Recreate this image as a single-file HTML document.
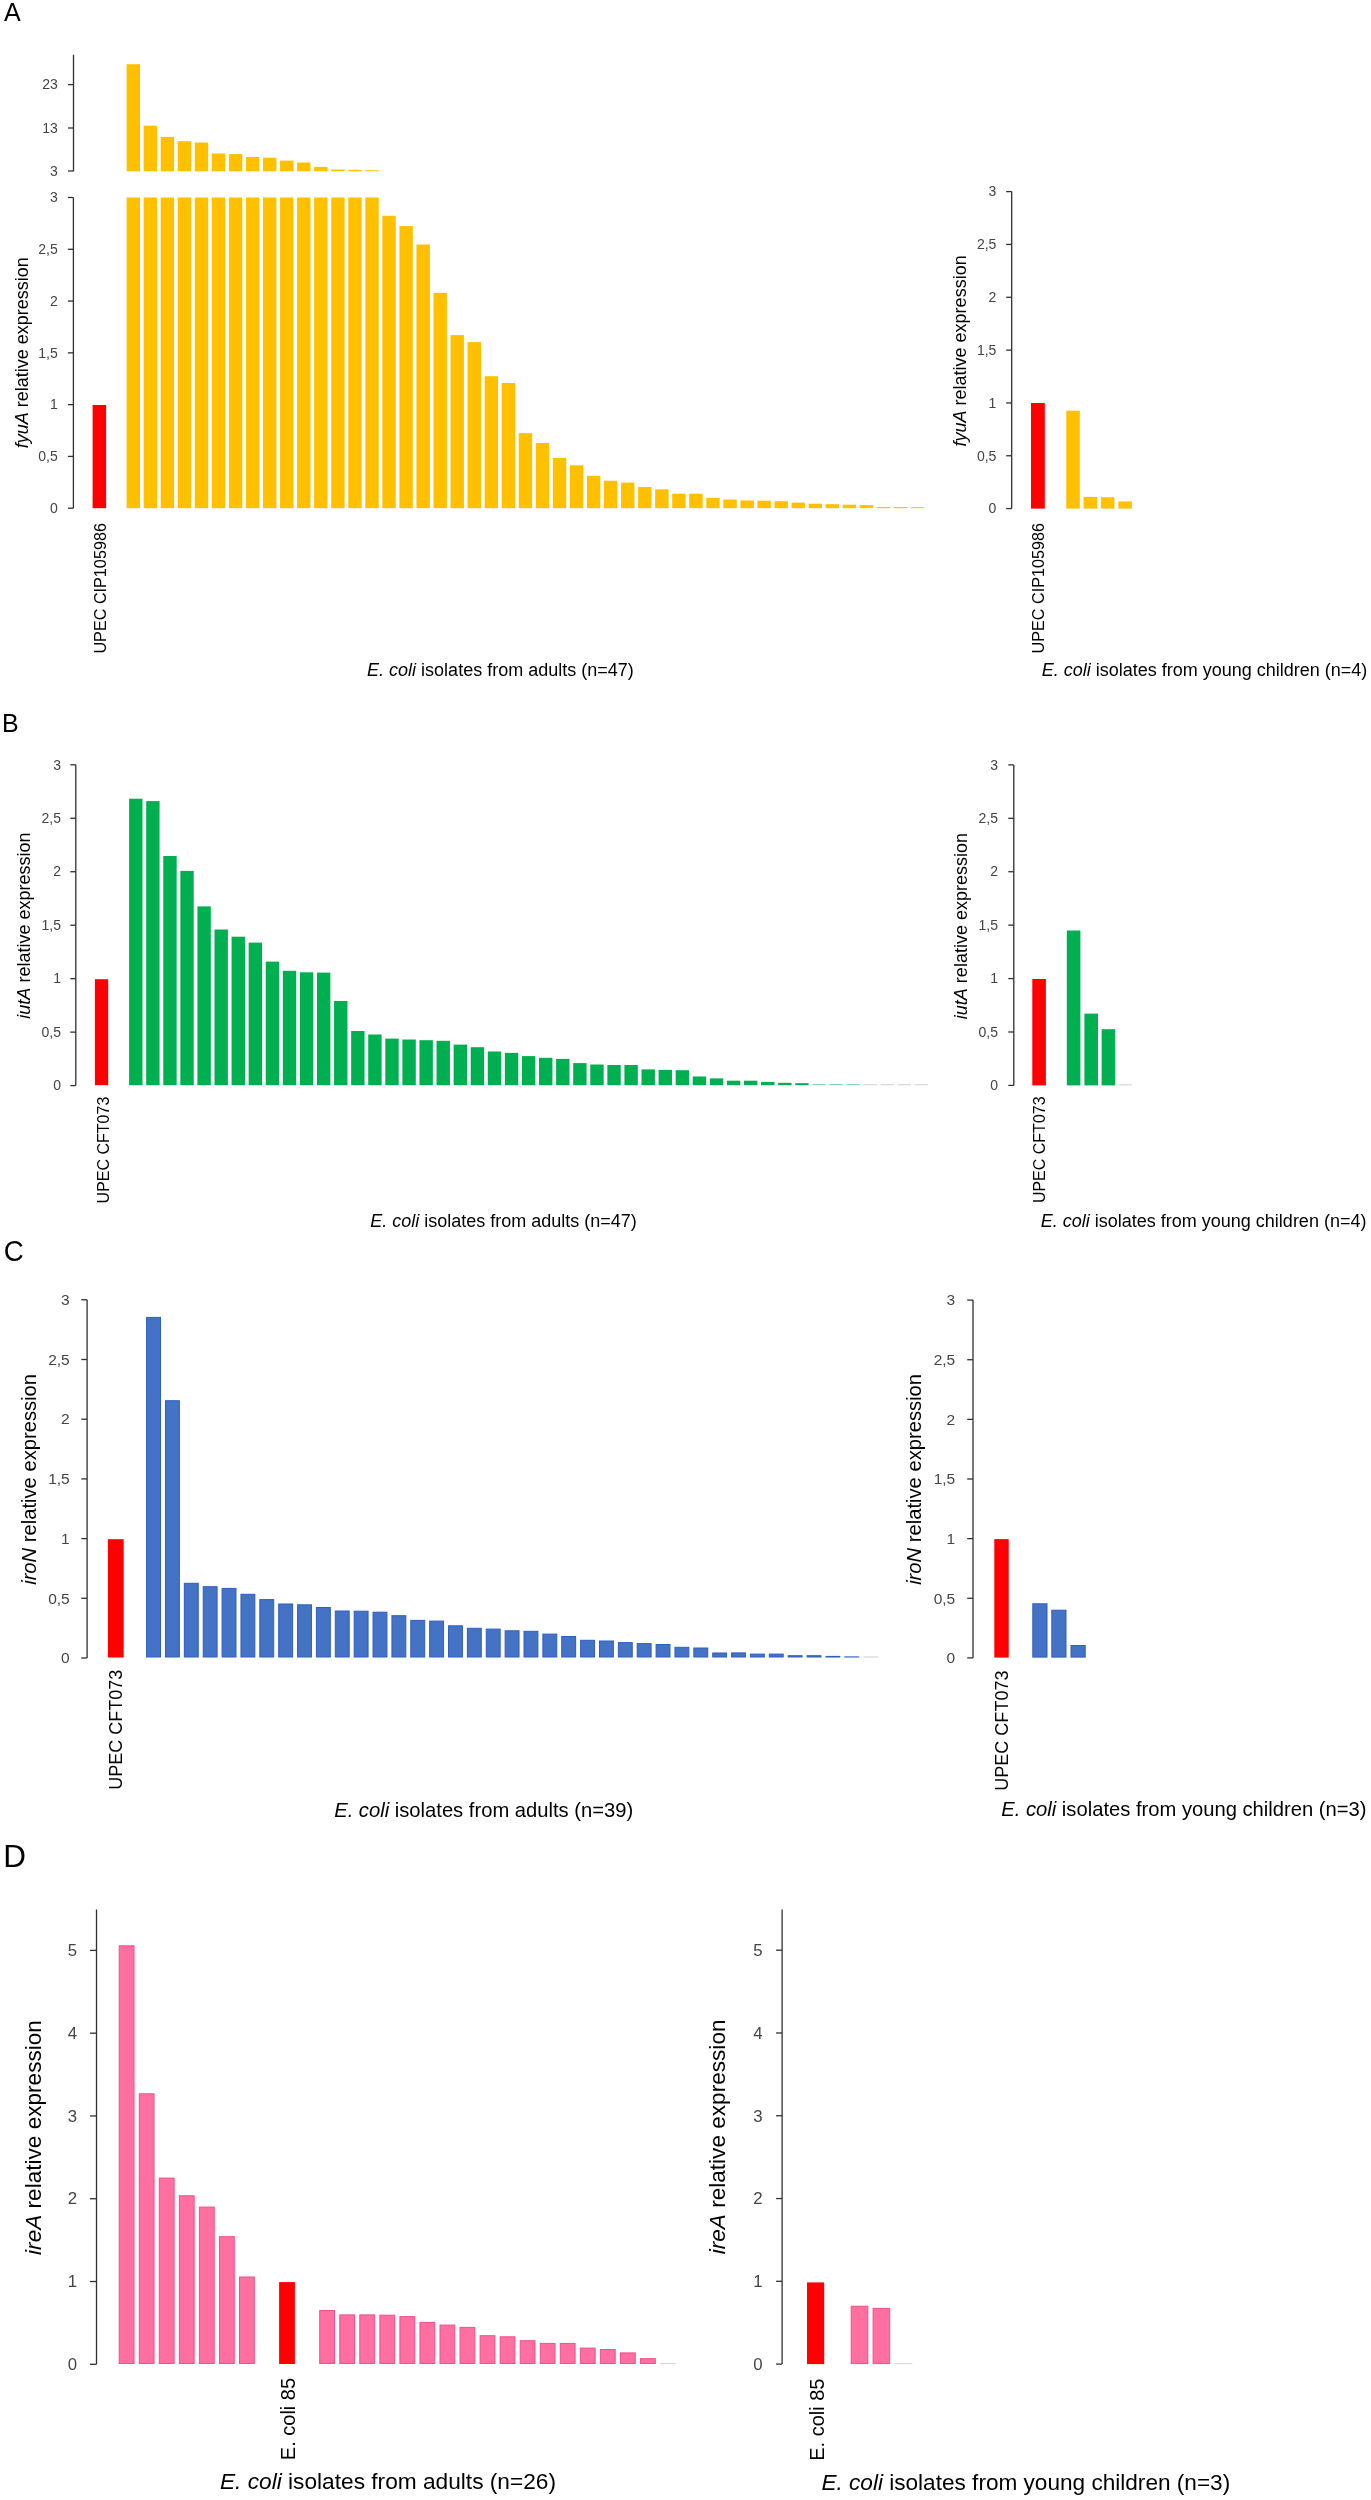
<!DOCTYPE html>
<html><head><meta charset="utf-8"><title>Figure</title>
<style>html,body{margin:0;padding:0;background:#fff;}svg{display:block;will-change:transform}text{font-family:"Liberation Sans",sans-serif;}</style>
</head><body>
<svg width="1371" height="2500" viewBox="0 0 1371 2500">
<rect x="0" y="0" width="1371" height="2500" fill="#fff"/>
<text x="4.10" y="21.10" font-size="25" text-anchor="start" fill="#000">A</text>
<line x1="73.50" y1="54.70" x2="73.50" y2="171.30" stroke="#303030" stroke-width="1.3"/>
<line x1="68.00" y1="84.60" x2="73.50" y2="84.60" stroke="#303030" stroke-width="1.3"/>
<text x="57.80" y="89.34" font-size="14" text-anchor="end" fill="#454545">23</text>
<line x1="68.00" y1="128.00" x2="73.50" y2="128.00" stroke="#303030" stroke-width="1.3"/>
<text x="57.80" y="132.74" font-size="14" text-anchor="end" fill="#454545">13</text>
<line x1="68.00" y1="171.00" x2="73.50" y2="171.00" stroke="#303030" stroke-width="1.3"/>
<text x="57.80" y="175.74" font-size="14" text-anchor="end" fill="#454545">3</text>
<rect x="126.60" y="64.20" width="13.40" height="107.10" fill="#FFC000"/>
<rect x="143.65" y="125.70" width="13.40" height="45.60" fill="#FFC000"/>
<rect x="160.70" y="136.90" width="13.40" height="34.40" fill="#FFC000"/>
<rect x="177.75" y="141.20" width="13.40" height="30.10" fill="#FFC000"/>
<rect x="194.80" y="142.50" width="13.40" height="28.80" fill="#FFC000"/>
<rect x="211.85" y="153.50" width="13.40" height="17.80" fill="#FFC000"/>
<rect x="228.90" y="154.10" width="13.40" height="17.20" fill="#FFC000"/>
<rect x="245.95" y="157.00" width="13.40" height="14.30" fill="#FFC000"/>
<rect x="263.00" y="157.70" width="13.40" height="13.60" fill="#FFC000"/>
<rect x="280.05" y="160.60" width="13.40" height="10.70" fill="#FFC000"/>
<rect x="297.10" y="162.50" width="13.40" height="8.80" fill="#FFC000"/>
<rect x="314.15" y="166.90" width="13.40" height="4.40" fill="#FFC000"/>
<rect x="331.20" y="169.50" width="13.40" height="1.80" fill="#FFC000"/>
<rect x="348.25" y="169.80" width="13.40" height="1.50" fill="#FFC000"/>
<rect x="365.30" y="170.20" width="13.40" height="1.10" fill="#FFC000"/>
<line x1="73.40" y1="197.50" x2="73.40" y2="508.20" stroke="#303030" stroke-width="1.3"/>
<line x1="67.90" y1="508.20" x2="73.40" y2="508.20" stroke="#303030" stroke-width="1.3"/>
<text x="57.80" y="512.94" font-size="14" text-anchor="end" fill="#454545">0</text>
<line x1="67.90" y1="456.42" x2="73.40" y2="456.42" stroke="#303030" stroke-width="1.3"/>
<text x="57.80" y="461.16" font-size="14" text-anchor="end" fill="#454545">0,5</text>
<line x1="67.90" y1="404.63" x2="73.40" y2="404.63" stroke="#303030" stroke-width="1.3"/>
<text x="57.80" y="409.37" font-size="14" text-anchor="end" fill="#454545">1</text>
<line x1="67.90" y1="352.85" x2="73.40" y2="352.85" stroke="#303030" stroke-width="1.3"/>
<text x="57.80" y="357.59" font-size="14" text-anchor="end" fill="#454545">1,5</text>
<line x1="67.90" y1="301.07" x2="73.40" y2="301.07" stroke="#303030" stroke-width="1.3"/>
<text x="57.80" y="305.81" font-size="14" text-anchor="end" fill="#454545">2</text>
<line x1="67.90" y1="249.28" x2="73.40" y2="249.28" stroke="#303030" stroke-width="1.3"/>
<text x="57.80" y="254.02" font-size="14" text-anchor="end" fill="#454545">2,5</text>
<line x1="67.90" y1="197.50" x2="73.40" y2="197.50" stroke="#303030" stroke-width="1.3"/>
<text x="57.80" y="202.24" font-size="14" text-anchor="end" fill="#454545">3</text>
<rect x="92.60" y="405.00" width="13.50" height="103.20" fill="#FF0000"/>
<rect x="126.60" y="197.50" width="13.40" height="310.70" fill="#FFC000"/>
<rect x="143.65" y="197.50" width="13.40" height="310.70" fill="#FFC000"/>
<rect x="160.70" y="197.50" width="13.40" height="310.70" fill="#FFC000"/>
<rect x="177.75" y="197.50" width="13.40" height="310.70" fill="#FFC000"/>
<rect x="194.80" y="197.50" width="13.40" height="310.70" fill="#FFC000"/>
<rect x="211.85" y="197.50" width="13.40" height="310.70" fill="#FFC000"/>
<rect x="228.90" y="197.50" width="13.40" height="310.70" fill="#FFC000"/>
<rect x="245.95" y="197.50" width="13.40" height="310.70" fill="#FFC000"/>
<rect x="263.00" y="197.50" width="13.40" height="310.70" fill="#FFC000"/>
<rect x="280.05" y="197.50" width="13.40" height="310.70" fill="#FFC000"/>
<rect x="297.10" y="197.50" width="13.40" height="310.70" fill="#FFC000"/>
<rect x="314.15" y="197.50" width="13.40" height="310.70" fill="#FFC000"/>
<rect x="331.20" y="197.50" width="13.40" height="310.70" fill="#FFC000"/>
<rect x="348.25" y="197.50" width="13.40" height="310.70" fill="#FFC000"/>
<rect x="365.30" y="197.50" width="13.40" height="310.70" fill="#FFC000"/>
<rect x="382.35" y="215.80" width="13.40" height="292.40" fill="#FFC000"/>
<rect x="399.40" y="226.10" width="13.40" height="282.10" fill="#FFC000"/>
<rect x="416.45" y="244.50" width="13.40" height="263.70" fill="#FFC000"/>
<rect x="433.50" y="292.80" width="13.40" height="215.40" fill="#FFC000"/>
<rect x="450.55" y="335.10" width="13.40" height="173.10" fill="#FFC000"/>
<rect x="467.60" y="342.10" width="13.40" height="166.10" fill="#FFC000"/>
<rect x="484.65" y="376.20" width="13.40" height="132.00" fill="#FFC000"/>
<rect x="501.70" y="383.00" width="13.40" height="125.20" fill="#FFC000"/>
<rect x="518.75" y="433.10" width="13.40" height="75.10" fill="#FFC000"/>
<rect x="535.80" y="443.00" width="13.40" height="65.20" fill="#FFC000"/>
<rect x="552.85" y="458.00" width="13.40" height="50.20" fill="#FFC000"/>
<rect x="569.90" y="465.30" width="13.40" height="42.90" fill="#FFC000"/>
<rect x="586.95" y="475.80" width="13.40" height="32.40" fill="#FFC000"/>
<rect x="604.00" y="480.80" width="13.40" height="27.40" fill="#FFC000"/>
<rect x="621.05" y="482.60" width="13.40" height="25.60" fill="#FFC000"/>
<rect x="638.10" y="487.00" width="13.40" height="21.20" fill="#FFC000"/>
<rect x="655.15" y="489.30" width="13.40" height="18.90" fill="#FFC000"/>
<rect x="672.20" y="493.70" width="13.40" height="14.50" fill="#FFC000"/>
<rect x="689.25" y="493.70" width="13.40" height="14.50" fill="#FFC000"/>
<rect x="706.30" y="497.90" width="13.40" height="10.30" fill="#FFC000"/>
<rect x="723.35" y="499.50" width="13.40" height="8.70" fill="#FFC000"/>
<rect x="740.40" y="500.50" width="13.40" height="7.70" fill="#FFC000"/>
<rect x="757.45" y="500.70" width="13.40" height="7.50" fill="#FFC000"/>
<rect x="774.50" y="501.20" width="13.40" height="7.00" fill="#FFC000"/>
<rect x="791.55" y="502.60" width="13.40" height="5.60" fill="#FFC000"/>
<rect x="808.60" y="503.70" width="13.40" height="4.50" fill="#FFC000"/>
<rect x="825.65" y="504.20" width="13.40" height="4.00" fill="#FFC000"/>
<rect x="842.70" y="504.70" width="13.40" height="3.50" fill="#FFC000"/>
<rect x="859.75" y="505.10" width="13.40" height="3.10" fill="#FFC000"/>
<rect x="876.80" y="507.00" width="13.40" height="1.20" fill="#FFC000"/>
<rect x="893.85" y="507.00" width="13.40" height="1.20" fill="#FFC000"/>
<rect x="910.90" y="507.20" width="13.40" height="1.00" fill="#FFC000"/>
<text x="28.20" y="352.70" font-size="18" text-anchor="middle" fill="#000" transform="rotate(-90 28.20 352.70)"><tspan font-style='italic'>fyuA</tspan> relative expression</text>
<text x="106.00" y="523.10" font-size="16.2" text-anchor="end" fill="#000" transform="rotate(-90 106.00 523.10)">UPEC CIP105986</text>
<text x="500.40" y="675.60" font-size="18" text-anchor="middle" fill="#000"><tspan font-style='italic'>E. coli</tspan> isolates from adults (n=47)</text>
<line x1="1011.70" y1="191.60" x2="1011.70" y2="508.60" stroke="#303030" stroke-width="1.3"/>
<line x1="1006.20" y1="508.60" x2="1011.70" y2="508.60" stroke="#303030" stroke-width="1.3"/>
<text x="996.40" y="513.34" font-size="14" text-anchor="end" fill="#454545">0</text>
<line x1="1006.20" y1="455.77" x2="1011.70" y2="455.77" stroke="#303030" stroke-width="1.3"/>
<text x="996.40" y="460.51" font-size="14" text-anchor="end" fill="#454545">0,5</text>
<line x1="1006.20" y1="402.93" x2="1011.70" y2="402.93" stroke="#303030" stroke-width="1.3"/>
<text x="996.40" y="407.67" font-size="14" text-anchor="end" fill="#454545">1</text>
<line x1="1006.20" y1="350.10" x2="1011.70" y2="350.10" stroke="#303030" stroke-width="1.3"/>
<text x="996.40" y="354.84" font-size="14" text-anchor="end" fill="#454545">1,5</text>
<line x1="1006.20" y1="297.27" x2="1011.70" y2="297.27" stroke="#303030" stroke-width="1.3"/>
<text x="996.40" y="302.01" font-size="14" text-anchor="end" fill="#454545">2</text>
<line x1="1006.20" y1="244.43" x2="1011.70" y2="244.43" stroke="#303030" stroke-width="1.3"/>
<text x="996.40" y="249.17" font-size="14" text-anchor="end" fill="#454545">2,5</text>
<line x1="1006.20" y1="191.60" x2="1011.70" y2="191.60" stroke="#303030" stroke-width="1.3"/>
<text x="996.40" y="196.34" font-size="14" text-anchor="end" fill="#454545">3</text>
<rect x="1031.00" y="403.00" width="13.80" height="105.60" fill="#FF0000"/>
<rect x="1066.30" y="410.70" width="13.50" height="97.90" fill="#FFC000"/>
<rect x="1083.60" y="496.90" width="13.50" height="11.70" fill="#FFC000"/>
<rect x="1100.90" y="497.20" width="13.50" height="11.40" fill="#FFC000"/>
<rect x="1118.40" y="501.40" width="13.50" height="7.20" fill="#FFC000"/>
<text x="966.40" y="350.90" font-size="18" text-anchor="middle" fill="#000" transform="rotate(-90 966.40 350.90)"><tspan font-style='italic'>fyuA</tspan> relative expression</text>
<text x="1043.50" y="523.00" font-size="16.2" text-anchor="end" fill="#000" transform="rotate(-90 1043.50 523.00)">UPEC CIP105986</text>
<text x="1204.50" y="675.60" font-size="18" text-anchor="middle" fill="#000"><tspan font-style='italic'>E. coli</tspan> isolates from young children (n=4)</text>
<text x="2.00" y="731.70" font-size="25" text-anchor="start" fill="#000">B</text>
<line x1="75.80" y1="764.80" x2="75.80" y2="1085.60" stroke="#303030" stroke-width="1.3"/>
<line x1="70.30" y1="1085.60" x2="75.80" y2="1085.60" stroke="#303030" stroke-width="1.3"/>
<text x="61.00" y="1090.34" font-size="14" text-anchor="end" fill="#454545">0</text>
<line x1="70.30" y1="1032.13" x2="75.80" y2="1032.13" stroke="#303030" stroke-width="1.3"/>
<text x="61.00" y="1036.87" font-size="14" text-anchor="end" fill="#454545">0,5</text>
<line x1="70.30" y1="978.67" x2="75.80" y2="978.67" stroke="#303030" stroke-width="1.3"/>
<text x="61.00" y="983.41" font-size="14" text-anchor="end" fill="#454545">1</text>
<line x1="70.30" y1="925.20" x2="75.80" y2="925.20" stroke="#303030" stroke-width="1.3"/>
<text x="61.00" y="929.94" font-size="14" text-anchor="end" fill="#454545">1,5</text>
<line x1="70.30" y1="871.73" x2="75.80" y2="871.73" stroke="#303030" stroke-width="1.3"/>
<text x="61.00" y="876.47" font-size="14" text-anchor="end" fill="#454545">2</text>
<line x1="70.30" y1="818.27" x2="75.80" y2="818.27" stroke="#303030" stroke-width="1.3"/>
<text x="61.00" y="823.01" font-size="14" text-anchor="end" fill="#454545">2,5</text>
<line x1="70.30" y1="764.80" x2="75.80" y2="764.80" stroke="#303030" stroke-width="1.3"/>
<text x="61.00" y="769.54" font-size="14" text-anchor="end" fill="#454545">3</text>
<rect x="94.90" y="979.20" width="13.30" height="106.00" fill="#FF0000"/>
<rect x="129.10" y="798.70" width="13.40" height="286.50" fill="#00B050"/>
<rect x="146.18" y="801.10" width="13.40" height="284.10" fill="#00B050"/>
<rect x="163.26" y="856.00" width="13.40" height="229.20" fill="#00B050"/>
<rect x="180.34" y="870.90" width="13.40" height="214.30" fill="#00B050"/>
<rect x="197.42" y="906.40" width="13.40" height="178.80" fill="#00B050"/>
<rect x="214.50" y="929.50" width="13.40" height="155.70" fill="#00B050"/>
<rect x="231.58" y="936.70" width="13.40" height="148.50" fill="#00B050"/>
<rect x="248.66" y="942.60" width="13.40" height="142.60" fill="#00B050"/>
<rect x="265.74" y="961.60" width="13.40" height="123.60" fill="#00B050"/>
<rect x="282.82" y="970.80" width="13.40" height="114.40" fill="#00B050"/>
<rect x="299.90" y="972.30" width="13.40" height="112.90" fill="#00B050"/>
<rect x="316.98" y="972.60" width="13.40" height="112.60" fill="#00B050"/>
<rect x="334.06" y="1001.00" width="13.40" height="84.20" fill="#00B050"/>
<rect x="351.14" y="1031.00" width="13.40" height="54.20" fill="#00B050"/>
<rect x="368.22" y="1034.50" width="13.40" height="50.70" fill="#00B050"/>
<rect x="385.30" y="1038.60" width="13.40" height="46.60" fill="#00B050"/>
<rect x="402.38" y="1039.50" width="13.40" height="45.70" fill="#00B050"/>
<rect x="419.46" y="1040.20" width="13.40" height="45.00" fill="#00B050"/>
<rect x="436.54" y="1040.80" width="13.40" height="44.40" fill="#00B050"/>
<rect x="453.62" y="1044.60" width="13.40" height="40.60" fill="#00B050"/>
<rect x="470.70" y="1047.20" width="13.40" height="38.00" fill="#00B050"/>
<rect x="487.78" y="1051.50" width="13.40" height="33.70" fill="#00B050"/>
<rect x="504.86" y="1052.90" width="13.40" height="32.30" fill="#00B050"/>
<rect x="521.94" y="1056.10" width="13.40" height="29.10" fill="#00B050"/>
<rect x="539.02" y="1057.80" width="13.40" height="27.40" fill="#00B050"/>
<rect x="556.10" y="1058.90" width="13.40" height="26.30" fill="#00B050"/>
<rect x="573.18" y="1063.10" width="13.40" height="22.10" fill="#00B050"/>
<rect x="590.26" y="1064.50" width="13.40" height="20.70" fill="#00B050"/>
<rect x="607.34" y="1065.00" width="13.40" height="20.20" fill="#00B050"/>
<rect x="624.42" y="1065.00" width="13.40" height="20.20" fill="#00B050"/>
<rect x="641.50" y="1069.40" width="13.40" height="15.80" fill="#00B050"/>
<rect x="658.58" y="1069.90" width="13.40" height="15.30" fill="#00B050"/>
<rect x="675.66" y="1070.20" width="13.40" height="15.00" fill="#00B050"/>
<rect x="692.74" y="1076.50" width="13.40" height="8.70" fill="#00B050"/>
<rect x="709.82" y="1078.40" width="13.40" height="6.80" fill="#00B050"/>
<rect x="726.90" y="1080.70" width="13.40" height="4.50" fill="#00B050"/>
<rect x="743.98" y="1080.70" width="13.40" height="4.50" fill="#00B050"/>
<rect x="761.06" y="1081.90" width="13.40" height="3.30" fill="#00B050"/>
<rect x="778.14" y="1082.80" width="13.40" height="2.40" fill="#00B050"/>
<rect x="795.22" y="1083.20" width="13.40" height="2.00" fill="#00B050"/>
<rect x="812.30" y="1084.10" width="13.40" height="1.10" fill="#7ED4A0"/>
<rect x="829.38" y="1084.10" width="13.40" height="1.10" fill="#7ED4A0"/>
<rect x="846.46" y="1084.10" width="13.40" height="1.10" fill="#7ED4A0"/>
<rect x="863.54" y="1084.20" width="13.40" height="1.00" fill="#D0D0D0"/>
<rect x="880.62" y="1084.20" width="13.40" height="1.00" fill="#D0D0D0"/>
<rect x="897.70" y="1084.20" width="13.40" height="1.00" fill="#D0D0D0"/>
<rect x="914.78" y="1084.20" width="13.40" height="1.00" fill="#D0D0D0"/>
<text x="30.50" y="925.60" font-size="18" text-anchor="middle" fill="#000" transform="rotate(-90 30.50 925.60)"><tspan font-style='italic'>iutA</tspan> relative expression</text>
<text x="109.00" y="1096.70" font-size="16" text-anchor="end" fill="#000" transform="rotate(-90 109.00 1096.70)">UPEC CFT073</text>
<text x="503.50" y="1227.20" font-size="18" text-anchor="middle" fill="#000"><tspan font-style='italic'>E. coli</tspan> isolates from adults (n=47)</text>
<line x1="1013.80" y1="764.90" x2="1013.80" y2="1085.40" stroke="#303030" stroke-width="1.3"/>
<line x1="1008.30" y1="1085.40" x2="1013.80" y2="1085.40" stroke="#303030" stroke-width="1.3"/>
<text x="998.00" y="1090.14" font-size="14" text-anchor="end" fill="#454545">0</text>
<line x1="1008.30" y1="1031.98" x2="1013.80" y2="1031.98" stroke="#303030" stroke-width="1.3"/>
<text x="998.00" y="1036.72" font-size="14" text-anchor="end" fill="#454545">0,5</text>
<line x1="1008.30" y1="978.57" x2="1013.80" y2="978.57" stroke="#303030" stroke-width="1.3"/>
<text x="998.00" y="983.31" font-size="14" text-anchor="end" fill="#454545">1</text>
<line x1="1008.30" y1="925.15" x2="1013.80" y2="925.15" stroke="#303030" stroke-width="1.3"/>
<text x="998.00" y="929.89" font-size="14" text-anchor="end" fill="#454545">1,5</text>
<line x1="1008.30" y1="871.73" x2="1013.80" y2="871.73" stroke="#303030" stroke-width="1.3"/>
<text x="998.00" y="876.47" font-size="14" text-anchor="end" fill="#454545">2</text>
<line x1="1008.30" y1="818.32" x2="1013.80" y2="818.32" stroke="#303030" stroke-width="1.3"/>
<text x="998.00" y="823.06" font-size="14" text-anchor="end" fill="#454545">2,5</text>
<line x1="1008.30" y1="764.90" x2="1013.80" y2="764.90" stroke="#303030" stroke-width="1.3"/>
<text x="998.00" y="769.64" font-size="14" text-anchor="end" fill="#454545">3</text>
<rect x="1032.30" y="979.00" width="13.60" height="106.40" fill="#FF0000"/>
<rect x="1066.80" y="930.50" width="13.60" height="154.90" fill="#00B050"/>
<rect x="1084.40" y="1013.60" width="13.60" height="71.80" fill="#00B050"/>
<rect x="1101.60" y="1029.20" width="13.60" height="56.20" fill="#00B050"/>
<rect x="1118.90" y="1084.40" width="13.30" height="1.00" fill="#D0D0D0"/>
<text x="967.20" y="926.10" font-size="18" text-anchor="middle" fill="#000" transform="rotate(-90 967.20 926.10)"><tspan font-style='italic'>iutA</tspan> relative expression</text>
<text x="1045.50" y="1096.40" font-size="16" text-anchor="end" fill="#000" transform="rotate(-90 1045.50 1096.40)">UPEC CFT073</text>
<text x="1203.60" y="1227.10" font-size="18" text-anchor="middle" fill="#000"><tspan font-style='italic'>E. coli</tspan> isolates from young children (n=4)</text>
<text transform="translate(3.8 1261.0) scale(0.95 1)" x="0" y="0" font-size="29.2" fill="#000">C</text>
<line x1="87.10" y1="1299.80" x2="87.10" y2="1658.00" stroke="#303030" stroke-width="1.3"/>
<line x1="81.30" y1="1658.00" x2="87.10" y2="1658.00" stroke="#303030" stroke-width="1.3"/>
<text x="69.70" y="1663.28" font-size="15.5" text-anchor="end" fill="#454545">0</text>
<line x1="81.30" y1="1598.30" x2="87.10" y2="1598.30" stroke="#303030" stroke-width="1.3"/>
<text x="69.70" y="1603.58" font-size="15.5" text-anchor="end" fill="#454545">0,5</text>
<line x1="81.30" y1="1538.60" x2="87.10" y2="1538.60" stroke="#303030" stroke-width="1.3"/>
<text x="69.70" y="1543.88" font-size="15.5" text-anchor="end" fill="#454545">1</text>
<line x1="81.30" y1="1478.90" x2="87.10" y2="1478.90" stroke="#303030" stroke-width="1.3"/>
<text x="69.70" y="1484.18" font-size="15.5" text-anchor="end" fill="#454545">1,5</text>
<line x1="81.30" y1="1419.20" x2="87.10" y2="1419.20" stroke="#303030" stroke-width="1.3"/>
<text x="69.70" y="1424.48" font-size="15.5" text-anchor="end" fill="#454545">2</text>
<line x1="81.30" y1="1359.50" x2="87.10" y2="1359.50" stroke="#303030" stroke-width="1.3"/>
<text x="69.70" y="1364.78" font-size="15.5" text-anchor="end" fill="#454545">2,5</text>
<line x1="81.30" y1="1299.80" x2="87.10" y2="1299.80" stroke="#303030" stroke-width="1.3"/>
<text x="69.70" y="1305.08" font-size="15.5" text-anchor="end" fill="#454545">3</text>
<rect x="107.90" y="1539.20" width="15.80" height="118.30" fill="#FF0000"/>
<rect x="146.60" y="1317.40" width="13.90" height="339.60" fill="#4472C4" stroke="#2F5EC4" stroke-width="1"/>
<rect x="165.47" y="1400.70" width="13.90" height="256.30" fill="#4472C4" stroke="#2F5EC4" stroke-width="1"/>
<rect x="184.34" y="1583.30" width="13.90" height="73.70" fill="#4472C4" stroke="#2F5EC4" stroke-width="1"/>
<rect x="203.21" y="1586.70" width="13.90" height="70.30" fill="#4472C4" stroke="#2F5EC4" stroke-width="1"/>
<rect x="222.08" y="1588.40" width="13.90" height="68.60" fill="#4472C4" stroke="#2F5EC4" stroke-width="1"/>
<rect x="240.95" y="1594.30" width="13.90" height="62.70" fill="#4472C4" stroke="#2F5EC4" stroke-width="1"/>
<rect x="259.82" y="1599.60" width="13.90" height="57.40" fill="#4472C4" stroke="#2F5EC4" stroke-width="1"/>
<rect x="278.69" y="1604.00" width="13.90" height="53.00" fill="#4472C4" stroke="#2F5EC4" stroke-width="1"/>
<rect x="297.56" y="1604.80" width="13.90" height="52.20" fill="#4472C4" stroke="#2F5EC4" stroke-width="1"/>
<rect x="316.43" y="1607.50" width="13.90" height="49.50" fill="#4472C4" stroke="#2F5EC4" stroke-width="1"/>
<rect x="335.30" y="1611.00" width="13.90" height="46.00" fill="#4472C4" stroke="#2F5EC4" stroke-width="1"/>
<rect x="354.17" y="1611.20" width="13.90" height="45.80" fill="#4472C4" stroke="#2F5EC4" stroke-width="1"/>
<rect x="373.04" y="1612.20" width="13.90" height="44.80" fill="#4472C4" stroke="#2F5EC4" stroke-width="1"/>
<rect x="391.91" y="1615.70" width="13.90" height="41.30" fill="#4472C4" stroke="#2F5EC4" stroke-width="1"/>
<rect x="410.78" y="1620.40" width="13.90" height="36.60" fill="#4472C4" stroke="#2F5EC4" stroke-width="1"/>
<rect x="429.65" y="1621.10" width="13.90" height="35.90" fill="#4472C4" stroke="#2F5EC4" stroke-width="1"/>
<rect x="448.52" y="1625.80" width="13.90" height="31.20" fill="#4472C4" stroke="#2F5EC4" stroke-width="1"/>
<rect x="467.39" y="1628.30" width="13.90" height="28.70" fill="#4472C4" stroke="#2F5EC4" stroke-width="1"/>
<rect x="486.26" y="1629.10" width="13.90" height="27.90" fill="#4472C4" stroke="#2F5EC4" stroke-width="1"/>
<rect x="505.13" y="1630.80" width="13.90" height="26.20" fill="#4472C4" stroke="#2F5EC4" stroke-width="1"/>
<rect x="524.00" y="1631.30" width="13.90" height="25.70" fill="#4472C4" stroke="#2F5EC4" stroke-width="1"/>
<rect x="542.87" y="1634.10" width="13.90" height="22.90" fill="#4472C4" stroke="#2F5EC4" stroke-width="1"/>
<rect x="561.74" y="1636.50" width="13.90" height="20.50" fill="#4472C4" stroke="#2F5EC4" stroke-width="1"/>
<rect x="580.61" y="1640.30" width="13.90" height="16.70" fill="#4472C4" stroke="#2F5EC4" stroke-width="1"/>
<rect x="599.48" y="1641.00" width="13.90" height="16.00" fill="#4472C4" stroke="#2F5EC4" stroke-width="1"/>
<rect x="618.35" y="1642.60" width="13.90" height="14.40" fill="#4472C4" stroke="#2F5EC4" stroke-width="1"/>
<rect x="637.22" y="1643.60" width="13.90" height="13.40" fill="#4472C4" stroke="#2F5EC4" stroke-width="1"/>
<rect x="656.09" y="1644.50" width="13.90" height="12.50" fill="#4472C4" stroke="#2F5EC4" stroke-width="1"/>
<rect x="674.96" y="1647.30" width="13.90" height="9.70" fill="#4472C4" stroke="#2F5EC4" stroke-width="1"/>
<rect x="693.83" y="1648.00" width="13.90" height="9.00" fill="#4472C4" stroke="#2F5EC4" stroke-width="1"/>
<rect x="712.70" y="1653.00" width="13.90" height="4.00" fill="#4472C4" stroke="#2F5EC4" stroke-width="1"/>
<rect x="731.57" y="1652.90" width="13.90" height="4.10" fill="#4472C4" stroke="#2F5EC4" stroke-width="1"/>
<rect x="750.44" y="1654.10" width="13.90" height="2.90" fill="#4472C4" stroke="#2F5EC4" stroke-width="1"/>
<rect x="769.31" y="1654.10" width="13.90" height="2.90" fill="#4472C4" stroke="#2F5EC4" stroke-width="1"/>
<rect x="788.18" y="1655.70" width="13.90" height="1.30" fill="#4472C4" stroke="#2F5EC4" stroke-width="1"/>
<rect x="807.05" y="1655.70" width="13.90" height="1.30" fill="#4472C4" stroke="#2F5EC4" stroke-width="1"/>
<rect x="825.92" y="1656.40" width="13.90" height="0.60" fill="#4472C4" stroke="#2F5EC4" stroke-width="1"/>
<rect x="844.79" y="1656.90" width="13.90" height="0.10" fill="#4472C4" stroke="#2F5EC4" stroke-width="1"/>
<rect x="863.16" y="1656.50" width="14.90" height="1.00" fill="#D0D0D0"/>
<text x="35.60" y="1479.40" font-size="20.2" text-anchor="middle" fill="#000" transform="rotate(-90 35.60 1479.40)"><tspan font-style='italic'>iroN</tspan> relative expression</text>
<text x="122.00" y="1669.60" font-size="18.05" text-anchor="end" fill="#000" transform="rotate(-90 122.00 1669.60)">UPEC CFT073</text>
<text x="483.70" y="1816.50" font-size="20.2" text-anchor="middle" fill="#000"><tspan font-style='italic'>E. coli</tspan> isolates from adults (n=39)</text>
<line x1="973.00" y1="1300.10" x2="973.00" y2="1657.90" stroke="#303030" stroke-width="1.3"/>
<line x1="967.20" y1="1657.90" x2="973.00" y2="1657.90" stroke="#303030" stroke-width="1.3"/>
<text x="955.20" y="1663.18" font-size="15.5" text-anchor="end" fill="#454545">0</text>
<line x1="967.20" y1="1598.27" x2="973.00" y2="1598.27" stroke="#303030" stroke-width="1.3"/>
<text x="955.20" y="1603.55" font-size="15.5" text-anchor="end" fill="#454545">0,5</text>
<line x1="967.20" y1="1538.63" x2="973.00" y2="1538.63" stroke="#303030" stroke-width="1.3"/>
<text x="955.20" y="1543.91" font-size="15.5" text-anchor="end" fill="#454545">1</text>
<line x1="967.20" y1="1479.00" x2="973.00" y2="1479.00" stroke="#303030" stroke-width="1.3"/>
<text x="955.20" y="1484.28" font-size="15.5" text-anchor="end" fill="#454545">1,5</text>
<line x1="967.20" y1="1419.37" x2="973.00" y2="1419.37" stroke="#303030" stroke-width="1.3"/>
<text x="955.20" y="1424.65" font-size="15.5" text-anchor="end" fill="#454545">2</text>
<line x1="967.20" y1="1359.73" x2="973.00" y2="1359.73" stroke="#303030" stroke-width="1.3"/>
<text x="955.20" y="1365.01" font-size="15.5" text-anchor="end" fill="#454545">2,5</text>
<line x1="967.20" y1="1300.10" x2="973.00" y2="1300.10" stroke="#303030" stroke-width="1.3"/>
<text x="955.20" y="1305.38" font-size="15.5" text-anchor="end" fill="#454545">3</text>
<rect x="994.30" y="1539.10" width="14.40" height="118.50" fill="#FF0000"/>
<rect x="1032.80" y="1603.80" width="14.20" height="53.30" fill="#4472C4" stroke="#2F5EC4" stroke-width="1"/>
<rect x="1051.80" y="1610.20" width="14.20" height="46.90" fill="#4472C4" stroke="#2F5EC4" stroke-width="1"/>
<rect x="1071.00" y="1645.50" width="14.20" height="11.60" fill="#4472C4" stroke="#2F5EC4" stroke-width="1"/>
<text x="921.00" y="1479.40" font-size="20.2" text-anchor="middle" fill="#000" transform="rotate(-90 921.00 1479.40)"><tspan font-style='italic'>iroN</tspan> relative expression</text>
<text x="1008.20" y="1670.50" font-size="18.05" text-anchor="end" fill="#000" transform="rotate(-90 1008.20 1670.50)">UPEC CFT073</text>
<text x="1183.90" y="1815.80" font-size="20.2" text-anchor="middle" fill="#000"><tspan font-style='italic'>E. coli</tspan> isolates from young children (n=3)</text>
<text x="3.30" y="1866.60" font-size="31.5" text-anchor="start" fill="#000">D</text>
<line x1="96.50" y1="1909.60" x2="96.50" y2="2364.30" stroke="#303030" stroke-width="1.3"/>
<line x1="90.00" y1="2364.30" x2="96.50" y2="2364.30" stroke="#303030" stroke-width="1.3"/>
<text x="77.00" y="2370.05" font-size="16.8" text-anchor="end" fill="#454545">0</text>
<line x1="90.00" y1="2281.52" x2="96.50" y2="2281.52" stroke="#303030" stroke-width="1.3"/>
<text x="77.00" y="2287.27" font-size="16.8" text-anchor="end" fill="#454545">1</text>
<line x1="90.00" y1="2198.74" x2="96.50" y2="2198.74" stroke="#303030" stroke-width="1.3"/>
<text x="77.00" y="2204.49" font-size="16.8" text-anchor="end" fill="#454545">2</text>
<line x1="90.00" y1="2115.96" x2="96.50" y2="2115.96" stroke="#303030" stroke-width="1.3"/>
<text x="77.00" y="2121.71" font-size="16.8" text-anchor="end" fill="#454545">3</text>
<line x1="90.00" y1="2033.18" x2="96.50" y2="2033.18" stroke="#303030" stroke-width="1.3"/>
<text x="77.00" y="2038.93" font-size="16.8" text-anchor="end" fill="#454545">4</text>
<line x1="90.00" y1="1950.40" x2="96.50" y2="1950.40" stroke="#303030" stroke-width="1.3"/>
<text x="77.00" y="1956.15" font-size="16.8" text-anchor="end" fill="#454545">5</text>
<rect x="119.20" y="1945.80" width="14.80" height="417.70" fill="#FF6FA0" stroke="#F0508C" stroke-width="1"/>
<rect x="139.25" y="2093.80" width="14.80" height="269.70" fill="#FF6FA0" stroke="#F0508C" stroke-width="1"/>
<rect x="159.30" y="2178.10" width="14.80" height="185.40" fill="#FF6FA0" stroke="#F0508C" stroke-width="1"/>
<rect x="179.35" y="2195.80" width="14.80" height="167.70" fill="#FF6FA0" stroke="#F0508C" stroke-width="1"/>
<rect x="199.40" y="2207.10" width="14.80" height="156.40" fill="#FF6FA0" stroke="#F0508C" stroke-width="1"/>
<rect x="219.45" y="2236.70" width="14.80" height="126.80" fill="#FF6FA0" stroke="#F0508C" stroke-width="1"/>
<rect x="239.50" y="2277.00" width="14.80" height="86.50" fill="#FF6FA0" stroke="#F0508C" stroke-width="1"/>
<rect x="279.10" y="2282.10" width="15.80" height="81.90" fill="#FF0000"/>
<rect x="319.70" y="2310.50" width="14.80" height="53.00" fill="#FF6FA0" stroke="#F0508C" stroke-width="1"/>
<rect x="339.75" y="2314.90" width="14.80" height="48.60" fill="#FF6FA0" stroke="#F0508C" stroke-width="1"/>
<rect x="359.80" y="2314.90" width="14.80" height="48.60" fill="#FF6FA0" stroke="#F0508C" stroke-width="1"/>
<rect x="379.85" y="2315.20" width="14.80" height="48.30" fill="#FF6FA0" stroke="#F0508C" stroke-width="1"/>
<rect x="399.90" y="2316.60" width="14.80" height="46.90" fill="#FF6FA0" stroke="#F0508C" stroke-width="1"/>
<rect x="419.95" y="2322.40" width="14.80" height="41.10" fill="#FF6FA0" stroke="#F0508C" stroke-width="1"/>
<rect x="440.00" y="2325.10" width="14.80" height="38.40" fill="#FF6FA0" stroke="#F0508C" stroke-width="1"/>
<rect x="460.05" y="2327.40" width="14.80" height="36.10" fill="#FF6FA0" stroke="#F0508C" stroke-width="1"/>
<rect x="480.10" y="2335.70" width="14.80" height="27.80" fill="#FF6FA0" stroke="#F0508C" stroke-width="1"/>
<rect x="500.15" y="2336.80" width="14.80" height="26.70" fill="#FF6FA0" stroke="#F0508C" stroke-width="1"/>
<rect x="520.20" y="2340.70" width="14.80" height="22.80" fill="#FF6FA0" stroke="#F0508C" stroke-width="1"/>
<rect x="540.25" y="2343.40" width="14.80" height="20.10" fill="#FF6FA0" stroke="#F0508C" stroke-width="1"/>
<rect x="560.30" y="2343.40" width="14.80" height="20.10" fill="#FF6FA0" stroke="#F0508C" stroke-width="1"/>
<rect x="580.35" y="2348.10" width="14.80" height="15.40" fill="#FF6FA0" stroke="#F0508C" stroke-width="1"/>
<rect x="600.40" y="2349.50" width="14.80" height="14.00" fill="#FF6FA0" stroke="#F0508C" stroke-width="1"/>
<rect x="620.45" y="2352.90" width="14.80" height="10.60" fill="#FF6FA0" stroke="#F0508C" stroke-width="1"/>
<rect x="640.50" y="2358.70" width="14.80" height="4.80" fill="#FF6FA0" stroke="#F0508C" stroke-width="1"/>
<rect x="660.05" y="2363.00" width="15.80" height="1.00" fill="#D8D8D8"/>
<text x="40.90" y="2137.50" font-size="22.6" text-anchor="middle" fill="#000" transform="rotate(-90 40.90 2137.50)"><tspan font-style='italic'>ireA</tspan> relative expression</text>
<text x="295.00" y="2377.90" font-size="20" text-anchor="end" fill="#000" transform="rotate(-90 295.00 2377.90)">E. coli 85</text>
<text x="388.00" y="2488.80" font-size="22.7" text-anchor="middle" fill="#000"><tspan font-style='italic'>E. coli</tspan> isolates from adults (n=26)</text>
<line x1="782.10" y1="1909.60" x2="782.10" y2="2364.10" stroke="#303030" stroke-width="1.3"/>
<line x1="776.10" y1="2364.10" x2="782.10" y2="2364.10" stroke="#303030" stroke-width="1.3"/>
<text x="762.60" y="2369.85" font-size="16.8" text-anchor="end" fill="#454545">0</text>
<line x1="776.10" y1="2281.32" x2="782.10" y2="2281.32" stroke="#303030" stroke-width="1.3"/>
<text x="762.60" y="2287.07" font-size="16.8" text-anchor="end" fill="#454545">1</text>
<line x1="776.10" y1="2198.54" x2="782.10" y2="2198.54" stroke="#303030" stroke-width="1.3"/>
<text x="762.60" y="2204.29" font-size="16.8" text-anchor="end" fill="#454545">2</text>
<line x1="776.10" y1="2115.76" x2="782.10" y2="2115.76" stroke="#303030" stroke-width="1.3"/>
<text x="762.60" y="2121.51" font-size="16.8" text-anchor="end" fill="#454545">3</text>
<line x1="776.10" y1="2032.98" x2="782.10" y2="2032.98" stroke="#303030" stroke-width="1.3"/>
<text x="762.60" y="2038.73" font-size="16.8" text-anchor="end" fill="#454545">4</text>
<line x1="776.10" y1="1950.20" x2="782.10" y2="1950.20" stroke="#303030" stroke-width="1.3"/>
<text x="762.60" y="1955.95" font-size="16.8" text-anchor="end" fill="#454545">5</text>
<rect x="807.00" y="2282.40" width="17.20" height="81.70" fill="#FF0000"/>
<rect x="851.20" y="2306.20" width="16.60" height="57.40" fill="#FF6FA0" stroke="#F0508C" stroke-width="1"/>
<rect x="873.10" y="2308.40" width="16.60" height="55.20" fill="#FF6FA0" stroke="#F0508C" stroke-width="1"/>
<rect x="895.10" y="2363.10" width="17.30" height="1.00" fill="#D8D8D8"/>
<text x="725.30" y="2136.90" font-size="22.6" text-anchor="middle" fill="#000" transform="rotate(-90 725.30 2136.90)"><tspan font-style='italic'>ireA</tspan> relative expression</text>
<text x="823.80" y="2378.50" font-size="20" text-anchor="end" fill="#000" transform="rotate(-90 823.80 2378.50)">E. coli 85</text>
<text x="1025.80" y="2489.80" font-size="22.6" text-anchor="middle" fill="#000"><tspan font-style='italic'>E. coli</tspan> isolates from young children (n=3)</text>
</svg>
</body></html>
